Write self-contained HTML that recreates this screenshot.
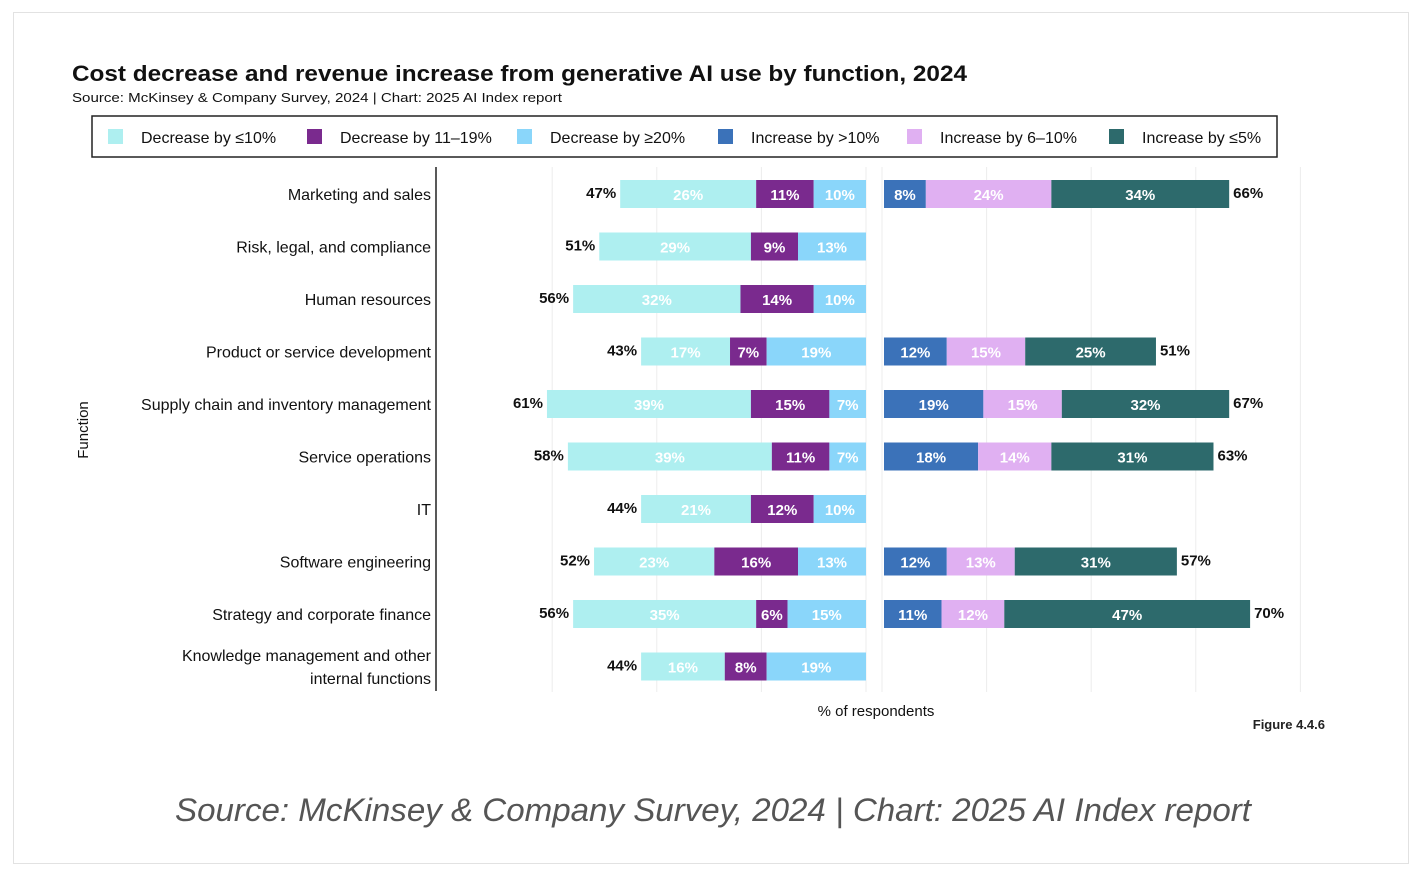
<!DOCTYPE html>
<html><head><meta charset="utf-8"><style>
body{margin:0;background:#fff;font-family:"Liberation Sans",sans-serif;}
#card{position:absolute;left:13px;top:12px;width:1396px;height:852px;border:1px solid #e2e2e2;box-sizing:border-box;}
</style></head><body>
<div id="card"></div>
<svg id="chart" width="1424" height="876" style="position:absolute;left:0;top:0">
<text x="72" y="81" font-size="22" font-weight="bold" fill="#111" textLength="895" lengthAdjust="spacingAndGlyphs">Cost decrease and revenue increase from generative AI use by function, 2024</text>
<text x="72" y="102" font-size="13" fill="#111" textLength="490" lengthAdjust="spacingAndGlyphs">Source: McKinsey &amp; Company Survey, 2024 | Chart: 2025 AI Index report</text>
<g id="legend"><rect x="92" y="116" width="1185" height="41" fill="none" stroke="#222" stroke-width="1.5"/></g>
<g id="grid"></g><g id="bars"></g>
<line x1="436" y1="167" x2="436" y2="691" stroke="#222" stroke-width="1.5"/>
<text x="88" y="430" font-size="15" fill="#111" text-anchor="middle" transform="rotate(-90 88 430)">Function</text>
<text x="876" y="716" font-size="15" fill="#111" text-anchor="middle">% of respondents</text>
<text x="1325" y="729" font-size="13" font-weight="bold" fill="#222" text-anchor="end">Figure 4.4.6</text>
<text x="175" y="821" font-size="32" font-style="italic" fill="#555" textLength="1076" lengthAdjust="spacingAndGlyphs">Source: McKinsey &amp; Company Survey, 2024 | Chart: 2025 AI Index report</text>
</svg>
<script>
const categories=["Marketing and sales","Risk, legal, and compliance","Human resources","Product or service development","Supply chain and inventory management","Service operations","IT","Software engineering","Strategy and corporate finance","Knowledge management and other|internal functions"];
const decLe10=[26,29,32,17,39,39,21,23,35,16];
const dec11to19=[11,9,14,7,15,11,12,16,6,8];
const decGe20=[10,13,10,19,7,7,10,13,15,19];
const incGt10=[8,null,null,12,19,18,null,12,11,null];
const inc6to10=[24,null,null,15,15,14,null,13,12,null];
const incLe5=[34,null,null,25,32,31,null,31,47,null];
const costTotals=[47,51,56,43,61,58,44,52,56,44];
const revTotals=[66,null,null,51,67,63,null,57,70,null];
const gridTicks=[0,20,40,60,80];
const legendLabels=["Decrease by ≤10%","Decrease by 11–19%","Decrease by ≥20%","Increase by >10%","Increase by 6–10%","Increase by ≤5%"];
const colors=["#aeeff0","#7a2a8e","#8ad6fa","#3b72b9","#e0b0f2","#2d6a6c"];
const NS="http://www.w3.org/2000/svg";
const PX=5.23, L0=866, R0=884;
const xL=v=>L0-v*PX, xR=v=>R0+v*PX;
const yC=i=>194+i*52.5;
const BH=28;
function mk(tag,attrs,parent){const e=document.createElementNS(NS,tag);for(const k in attrs)e.setAttribute(k,attrs[k]);parent.appendChild(e);return e;}
const grid=document.getElementById('grid'),bars=document.getElementById('bars'),legend=document.getElementById('legend');
gridTicks.forEach(t=>{
 if(t<=60){const l=mk('line',{x1:xL(t),x2:xL(t),y1:167,y2:692,stroke:'#ececec'},grid);
 
 }
 const r=mk('line',{x1:xR(t)-2,x2:xR(t)-2,y1:167,y2:692,stroke:'#ececec'},grid);
 
 
});
const lx=[108,307,517,718,907,1109];
legendLabels.forEach((s,i)=>{
 const g=mk('g',{},legend);
 
 
 mk('rect',{x:lx[i],y:129,width:15,height:15,fill:colors[i]},g);
 const t=mk('text',{x:lx[i]+33,y:143,'font-size':16,fill:'#111'},g);t.textContent=s;
});
function seg(x,w,y,col,val,name){
 const r=mk('rect',{x:x,y:y-BH/2,width:w,height:BH,fill:col},bars);
 
 
 const t=mk('text',{x:x+w/2,y:y+6,'font-size':15,'font-weight':'bold',fill:'#fff','text-anchor':'middle'},bars);
 t.textContent=val+'%';
}
categories.forEach((c,i)=>{
 const y=yC(i);
 const parts=c.split('|');
 parts.forEach((p,k)=>{const t=mk('text',{x:431,y:y+6+(parts.length>1?(k-0.5)*23:0),'font-size':16,fill:'#111','text-anchor':'end'},bars);t.textContent=p;
 
 });
 const dec=[decLe10[i],dec11to19[i],decGe20[i]];
 let cum=dec.reduce((a,b)=>a+b,0);
 let start=cum;
 dec.forEach((v,k)=>{seg(xL(cum),v*PX,y,colors[k],v,'cost-bar-'+k);cum-=v;});
 const tt=mk('text',{x:xL(start)-4,y:y+4,'font-size':15,'font-weight':'bold',fill:'#111','text-anchor':'end'},bars);
 tt.textContent=costTotals[i]+'%';
 
 
 if(incGt10[i]!=null){
  const inc=[incGt10[i],inc6to10[i],incLe5[i]];let c2=0;
  inc.forEach((v,k)=>{seg(xR(c2),v*PX,y,colors[3+k],v,'revenue-bar-'+k);c2+=v;});
  const rt=mk('text',{x:xR(c2)+4,y:y+4,'font-size':15,'font-weight':'bold',fill:'#111'},bars);
  rt.textContent=revTotals[i]+'%';
  
  
 }
});
</script>
</body></html>
